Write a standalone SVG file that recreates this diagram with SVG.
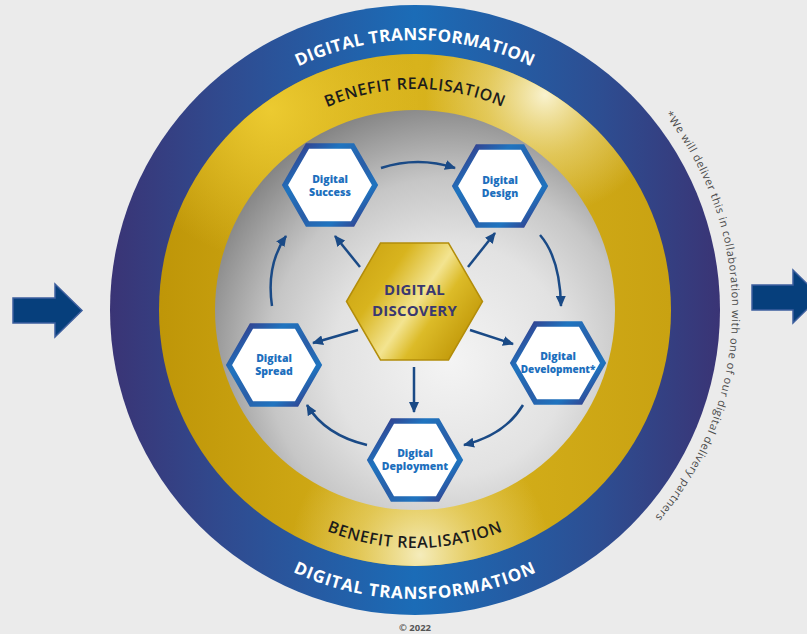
<svg xmlns="http://www.w3.org/2000/svg" xmlns:xlink="http://www.w3.org/1999/xlink" width="807" height="634" viewBox="0 0 807 634">
  <defs>
    <style>
      .band-text { font-family: "Open Sans", "Liberation Sans", sans-serif; font-weight: 700; }
      .outer-lbl { fill: #ffffff; font-size: 17px; letter-spacing: 0.4px; }
      .gold-lbl { fill: #1c1c1c; font-size: 16px; font-weight: 600; letter-spacing: 0.6px; }
      .note { font-family: "Open Sans", "Liberation Sans", sans-serif; font-size: 11px; fill: #4a4a4a; }
      .hex { fill: #ffffff; stroke: url(#hexStroke); stroke-width: 5.5; stroke-linejoin: miter; }
      .hex-lbl { font-family: "Open Sans", "Liberation Sans", sans-serif; font-weight: 800; font-size: 10.5px; fill: #1d6fbd; text-anchor: middle; }
      .core-lbl { font-family: "Open Sans", "Liberation Sans", sans-serif; font-weight: 700; font-size: 15px; fill: #3a3870; text-anchor: middle; letter-spacing: 0.2px; }
      .conn { fill: none; stroke: #1a4a86; stroke-width: 2.5; marker-end: url(#head); }
      .big-arrow { fill: #063f7c; stroke: #3d5f9e; stroke-width: 1.5; }
    </style>

    <linearGradient id="blueBand" gradientUnits="userSpaceOnUse" x1="110" y1="0" x2="720" y2="0">
      <stop offset="0" stop-color="#3a3475"/>
      <stop offset="0.2" stop-color="#2f4c91"/>
      <stop offset="0.5" stop-color="#1b6cb7"/>
      <stop offset="0.8" stop-color="#2d4e92"/>
      <stop offset="1" stop-color="#3a3475"/>
    </linearGradient>

    <linearGradient id="goldBase" gradientUnits="userSpaceOnUse" x1="160" y1="310" x2="672" y2="310">
      <stop offset="0" stop-color="#bf9608"/>
      <stop offset="0.5" stop-color="#d8b31c"/>
      <stop offset="1" stop-color="#c9a212"/>
    </linearGradient>
    <radialGradient id="glowTR" gradientUnits="userSpaceOnUse" cx="545" cy="95" r="120">
      <stop offset="0" stop-color="#fbf6d8" stop-opacity="0.95"/>
      <stop offset="0.5" stop-color="#f2e39a" stop-opacity="0.5"/>
      <stop offset="1" stop-color="#f2e39a" stop-opacity="0"/>
    </radialGradient>
    <radialGradient id="glowB" gradientUnits="userSpaceOnUse" cx="420" cy="555" r="130">
      <stop offset="0" stop-color="#f6efc4" stop-opacity="0.95"/>
      <stop offset="0.5" stop-color="#efde8c" stop-opacity="0.5"/>
      <stop offset="1" stop-color="#efde8c" stop-opacity="0"/>
    </radialGradient>
    <radialGradient id="glowTL" gradientUnits="userSpaceOnUse" cx="270" cy="110" r="150">
      <stop offset="0" stop-color="#f0cf34" stop-opacity="0.9"/>
      <stop offset="1" stop-color="#f0cf34" stop-opacity="0"/>
    </radialGradient>

    <radialGradient id="silver" gradientUnits="userSpaceOnUse" cx="450" cy="360" r="260">
      <stop offset="0" stop-color="#f4f4f4"/>
      <stop offset="0.45" stop-color="#e2e2e2"/>
      <stop offset="0.7" stop-color="#c6c6c6"/>
      <stop offset="1" stop-color="#858585"/>
    </radialGradient>

    <linearGradient id="hexStroke" x1="0" y1="0" x2="1" y2="1">
      <stop offset="0" stop-color="#3b2d7c"/>
      <stop offset="0.3" stop-color="#1f74bf"/>
      <stop offset="0.55" stop-color="#2a5ea8"/>
      <stop offset="0.75" stop-color="#1f74bf"/>
      <stop offset="1" stop-color="#3b2d7c"/>
    </linearGradient>

    <linearGradient id="coreGold" x1="0" y1="0" x2="1" y2="0.6">
      <stop offset="0" stop-color="#c79e0e"/>
      <stop offset="0.35" stop-color="#d8b41e"/>
      <stop offset="0.6" stop-color="#f3e490"/>
      <stop offset="0.75" stop-color="#dcbb28"/>
      <stop offset="1" stop-color="#c49c0c"/>
    </linearGradient>

    <marker id="head" markerUnits="userSpaceOnUse" markerWidth="12" markerHeight="10" refX="10" refY="5" orient="auto">
      <path d="M0,0 L11,5 L0,10 z" fill="#1a4a86"/>
    </marker>

    <!-- arcs that carry the band labels -->
    <path id="arcTopOuter" d="M145,310 A270,270 0 0 1 685,310"/>
    <path id="arcTopGold" d="M194,310 A221,221 0 0 1 636,310"/>
    <path id="arcBotGold" d="M177,310 A238,238 0 0 0 653,310"/>
    <path id="arcBotOuter" d="M126,310 A289,289 0 0 0 704,310"/>
    <path id="arcNote" d="M664.8,114.8 A317,317 0 0 1 639.2,534.2"/>
  </defs>

  <rect width="807" height="634" fill="#ebebeb"/>

  <!-- concentric rings -->
  <g id="rings">
    <circle cx="415" cy="310" r="305" fill="url(#blueBand)"/>
    <circle cx="415" cy="310" r="256" fill="url(#goldBase)"/>
    <circle cx="415" cy="310" r="256" fill="url(#glowTL)"/>
    <circle cx="415" cy="310" r="256" fill="url(#glowTR)"/>
    <circle cx="415" cy="310" r="256" fill="url(#glowB)"/>
    <circle cx="415" cy="310" r="200" fill="url(#silver)"/>
  </g>

  <g id="ring-labels" class="band-text">
    <text class="outer-lbl"><textPath xlink:href="#arcTopOuter" startOffset="50%" text-anchor="middle">DIGITAL TRANSFORMATION</textPath></text>
    <text class="gold-lbl"><textPath xlink:href="#arcTopGold" startOffset="50%" text-anchor="middle">BENEFIT REALISATION</textPath></text>
    <text class="gold-lbl"><textPath xlink:href="#arcBotGold" startOffset="50%" text-anchor="middle">BENEFIT REALISATION</textPath></text>
    <text class="outer-lbl"><textPath xlink:href="#arcBotOuter" startOffset="50%" text-anchor="middle" style="letter-spacing:0.9px">DIGITAL TRANSFORMATION</textPath></text>
  </g>

  <text class="note"><textPath xlink:href="#arcNote" textLength="436" lengthAdjust="spacing">*We will deliver this in collaboration with one of our digital delivery partners</textPath></text>

  <!-- entry and exit arrows -->
  <path class="big-arrow" d="M13,298 L55,298 L55,284 L82,310.5 L55,337 L55,323 L13,323 Z"/>
  <path class="big-arrow" d="M752,285 L793,285 L793,270 L820,296.5 L793,323 L793,310 L752,310 Z"/>

  <g id="connectors">
    <path class="conn" d="M381,168 Q418,156 455,168"/>
    <path class="conn" d="M540,235 Q560,258 561,306"/>
    <path class="conn" d="M523,405 Q505,435 464,445"/>
    <path class="conn" d="M367,445 Q325,435 307,405"/>
    <path class="conn" d="M272,306 Q266,265 286,236"/>
    <path class="conn" d="M360,267 L335,236"/>
    <path class="conn" d="M468,267 L495,233"/>
    <path class="conn" d="M358,330 L313,343"/>
    <path class="conn" d="M470,330 L513,344"/>
    <path class="conn" d="M414,367 L414,412"/>
  </g>

  <g id="digital-discovery">
    <path d="M346.5,301.5 L380.5,243 L448.5,243 L482.5,301.5 L448.5,360 L380.5,360 Z" fill="url(#coreGold)" stroke="#b38d0a" stroke-width="1.5"/>
    <text class="core-lbl" x="414.5" y="295">DIGITAL</text>
    <text class="core-lbl" x="414.5" y="316">DISCOVERY</text>
  </g>

  <g id="digital-success">
    <path class="hex" d="M285,185 L307.5,146 L352.5,146 L375,185 L352.5,224 L307.5,224 Z"/>
    <text class="hex-lbl" x="330" y="183">Digital</text>
    <text class="hex-lbl" x="330" y="196">Success</text>
  </g>

  <g id="digital-design">
    <path class="hex" d="M455,186 L477.5,147 L522.5,147 L545,186 L522.5,225 L477.5,225 Z"/>
    <text class="hex-lbl" x="500" y="184">Digital</text>
    <text class="hex-lbl" x="500" y="197">Design</text>
  </g>

  <g id="digital-development">
    <path class="hex" d="M513,363 L535.5,324 L580.5,324 L603,363 L580.5,402 L535.5,402 Z"/>
    <text class="hex-lbl" x="558" y="360">Digital</text>
    <text class="hex-lbl" x="558" y="373" style="font-size:10px">Development*</text>
  </g>

  <g id="digital-deployment">
    <path class="hex" d="M370,460 L392.5,421 L437.5,421 L460,460 L437.5,499 L392.5,499 Z"/>
    <text class="hex-lbl" x="415" y="457">Digital</text>
    <text class="hex-lbl" x="415" y="470">Deployment</text>
  </g>

  <g id="digital-spread">
    <path class="hex" d="M229,365 L251.5,326 L296.5,326 L319,365 L296.5,404 L251.5,404 Z"/>
    <text class="hex-lbl" x="274" y="362">Digital</text>
    <text class="hex-lbl" x="274" y="375">Spread</text>
  </g>

  <text x="415" y="631" font-family="'Open Sans', 'Liberation Sans', sans-serif" font-size="9.5" font-weight="700" fill="#555555" text-anchor="middle">© 2022</text>
</svg>
